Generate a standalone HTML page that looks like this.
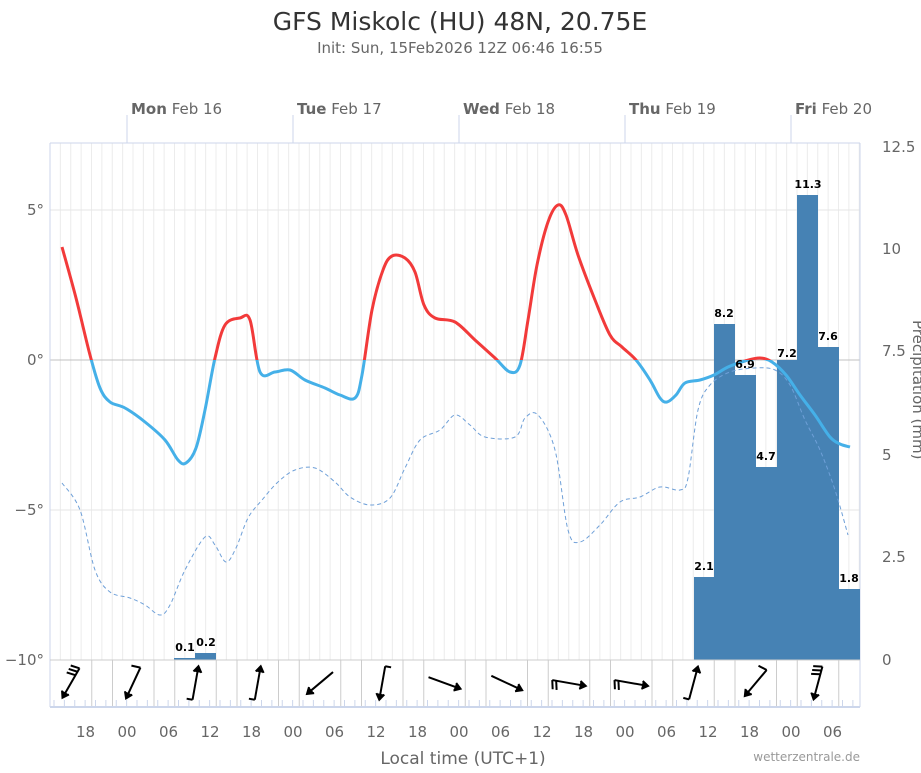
<!DOCTYPE html>
<html><head><meta charset="utf-8"><style>
body{margin:0;background:#fff;font-family:"Liberation Sans","DejaVu Sans",sans-serif}
</style></head><body>
<svg id="s" width="921" height="768" xmlns="http://www.w3.org/2000/svg" font-family="DejaVu Sans, Liberation Sans, sans-serif">
<text x="460" y="30" text-anchor="middle" font-size="25" fill="#333">GFS Miskolc (HU) 48N, 20.75E</text>
<text x="460" y="53" text-anchor="middle" font-size="15" fill="#666">Init: Sun, 15Feb2026 12Z 06:46 16:55</text>
<g id="grid"></g>
<line x1="50" y1="210" x2="860" y2="210" stroke="#e6e6e6"/>
<line x1="50" y1="510" x2="860" y2="510" stroke="#e6e6e6"/>
<line x1="50" y1="360" x2="860" y2="360" stroke="#c0c0c0"/>
<line x1="50" y1="143" x2="860" y2="143" stroke="#ccd6eb"/>
<line x1="50" y1="143" x2="50" y2="707" stroke="#ccd6eb"/>
<line x1="860" y1="143" x2="860" y2="707" stroke="#ccd6eb"/>
<g id="days" font-size="15" fill="#666"></g>
<g fill="#4682b4">
<rect x="174" y="658" width="21" height="2"/><rect x="195" y="653" width="21" height="7"/>
<rect x="694" y="577" width="20.5" height="83"/><rect x="714" y="324" width="21" height="336"/>
<rect x="735" y="375" width="21" height="285"/><rect x="756" y="467" width="21" height="193"/>
<rect x="777" y="360" width="20.5" height="300"/><rect x="797" y="195" width="21" height="465"/>
<rect x="818" y="347" width="21" height="313"/><rect x="839" y="589" width="21" height="71"/>
</g>
<path id="dew" fill="none" stroke="#6fa0d8" stroke-width="1" stroke-dasharray="4,3"/>
<defs><clipPath id="above"><rect x="0" y="0" width="921" height="360"/></clipPath><clipPath id="below"><rect x="0" y="360" width="921" height="400"/></clipPath></defs>
<path id="tb" fill="none" stroke="#45b0e8" stroke-width="3" clip-path="url(#below)"/>
<path id="tr" fill="none" stroke="#f23a3a" stroke-width="3" clip-path="url(#above)"/>
<g font-size="11" font-weight="bold" fill="#000" text-anchor="middle">
<text x="185" y="651">0.1</text><text x="206" y="646">0.2</text>
<text x="704" y="570">2.1</text><text x="724" y="317">8.2</text><text x="745" y="368">6.9</text>
<text x="766" y="460">4.7</text><text x="787" y="357">7.2</text><text x="808" y="188">11.3</text>
<text x="828" y="340">7.6</text><text x="849" y="582">1.8</text>
</g>
<line x1="50" y1="660" x2="860" y2="660" stroke="#ccc"/>
<line x1="50" y1="707" x2="860" y2="707" stroke="#ccd6eb" stroke-width="2"/>
<g id="wind" stroke="#000" stroke-width="2" fill="none"></g>
<g font-size="15" fill="#666" text-anchor="end">
<text x="44" y="215">5°</text><text x="44" y="365">0°</text><text x="44" y="515">−5°</text><text x="44" y="665">−10°</text>
</g>
<g font-size="15" fill="#666">
<text x="882" y="152">12.5</text><text x="882" y="254">10</text><text x="882" y="356">7.5</text><text x="882" y="460">5</text><text x="882" y="562">2.5</text><text x="882" y="665">0</text>
</g>
<text transform="translate(913,320) rotate(90)" font-size="15" fill="#666">Precipitation (mm)</text>
<g id="xl" font-size="15" fill="#666" text-anchor="middle"></g>
<text x="463" y="764" text-anchor="middle" font-size="17" fill="#666">Local time (UTC+1)</text>
<text x="860" y="761" text-anchor="end" font-size="12" fill="#999">wetterzentrale.de</text>
</svg>
<script>
var NS="http://www.w3.org/2000/svg";
function el(p,t,a,txt){var e=document.createElementNS(NS,t);for(var k in a)e.setAttribute(k,a[k]);if(txt)e.textContent=txt;document.getElementById(p).appendChild(e);return e;}
for(var x=50+10.375;x<860;x+=10.375)el("grid","line",{x1:x,y1:143,x2:x,y2:660,stroke:"#ececec"});
var lab=["18","00","06","12"],i=0;
for(var x=85.5;x<860;x+=41.5){el("xl","text",{x:x,y:737},lab[i%4]);i++;}
for(var x=54;x<860;x+=10.375)el("grid","line",{x1:x,y1:700,x2:x,y2:707,stroke:"#ccd6eb"});
var days=[["Mon","Feb 16"],["Tue","Feb 17"],["Wed","Feb 18"],["Thu","Feb 19"],["Fri","Feb 20"]];
days.forEach(function(d,k){var x=127+166*k;el("days","line",{x1:x,y1:115,x2:x,y2:143,stroke:"#ccd6eb"});
var t=el("days","text",{x:x+4,y:114});t.innerHTML='<tspan font-weight="bold">'+d[0]+'</tspan> '+d[1];});
function cr(p){var s="M"+p[0][0]+","+p[0][1];for(var i=0;i<p.length-1;i++){var a=p[Math.max(0,i-1)],b=p[i],c=p[i+1],d=p[Math.min(p.length-1,i+2)];
s+=" C"+(b[0]+(c[0]-a[0])/6)+","+(b[1]+(c[1]-a[1])/6)+" "+(c[0]-(d[0]-b[0])/6)+","+(c[1]-(d[1]-b[1])/6)+" "+c[0]+","+c[1];}return s;}
var T=[[62,247],[76,298],[90,355],[100,388],[110,402],[125,408],[145,422],[165,440],[178,460],[186,463],[196,448],[205,410],[215,358],[225,325],[240,318],[250,320],[260,372],[275,372],[290,370],[305,380],[325,388],[340,395],[355,398],[362,375],[372,310],[383,270],[392,256],[405,258],[415,272],[424,305],[435,318],[455,322],[475,340],[495,358],[510,372],[520,365],[528,320],[537,265],[548,222],[558,205],[566,215],[578,255],[595,300],[610,335],[622,347],[636,360],[650,380],[660,398],[667,402],[676,395],[685,383],[700,380],[714,375],[728,367],[745,361],[760,358],[772,362],[786,375],[800,395],[815,415],[830,437],[840,444],[850,447]];
var p=cr(T);document.getElementById("tb").setAttribute("d",p);document.getElementById("tr").setAttribute("d",p);
var D=[[62,483],[80,510],[95,570],[110,592],[130,598],[145,605],[160,615],[170,605],[185,570],[205,537],[215,545],[226,562],[236,548],[248,518],[262,500],[278,482],[295,470],[315,468],[335,482],[350,497],[370,505],[390,498],[405,468],[420,440],[440,430],[455,415],[470,425],[485,437],[515,437],[525,418],[538,415],[555,450],[568,530],[580,542],[600,525],[620,502],[640,497],[660,487],[680,490],[688,478],[698,410],[710,385],[730,372],[755,368],[775,370],[790,385],[805,420],[820,450],[835,490],[848,535]];
document.getElementById("dew").setAttribute("d",cr(D));
var ang=[210,205,10,10,230,190,110,115,100,100,15,220,195],fe=[3,1,-1,-1,0,-1,0,0,2,2,-1,1,3];
for(var k=0;k<13;k++){var cx=71+62.25*k;
if(k>0)el("grid","line",{x1:cx-20.75,y1:660,x2:cx-20.75,y2:707,stroke:"#ccc"});el("grid","line",{x1:cx+20.75,y1:660,x2:cx+20.75,y2:707,stroke:"#ccc"});
var a=ang[k]*Math.PI/180,dx=Math.sin(a),dy=-Math.cos(a),L=17;
var hx=cx+dx*L,hy=683+dy*L,tx=cx-dx*L,ty=683-dy*L;
el("wind","line",{x1:tx,y1:ty,x2:hx,y2:hy});
var px=-dy,py=dx;
el("wind","path",{d:"M"+(hx-dx*6+px*4)+","+(hy-dy*6+py*4)+" L"+hx+","+hy+" L"+(hx-dx*6-px*4)+","+(hy-dy*6-py*4),fill:"#000"});
var n=fe[k];if(n<0){el("wind","line",{x1:tx,y1:ty,x2:tx-px*6,y2:ty-py*6});}
for(var j=0;j<n;j++){var bx=tx+dx*j*4,by=ty+dy*j*4;el("wind","line",{x1:bx,y1:by,x2:bx+px*9+dx*2,y2:by+py*9+dy*2});}}
</script>
</body></html>
